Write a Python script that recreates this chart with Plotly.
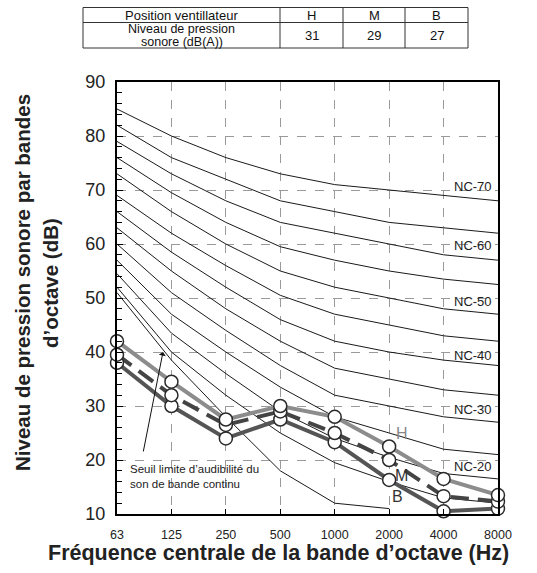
import plotly.graph_objects as go

# ---------------- data ----------------
freq_labels = ["63", "125", "250", "500", "1000", "2000", "4000", "8000"]
x_idx = list(range(len(freq_labels)))

nc_70 = [85, 80, 76, 73, 71, 70, 69, 68]
nc_65 = [82, 76, 72, 68, 66, 64, 63, 62]
nc_60 = [79, 73, 68, 64, 62, 60, 58, 57]
nc_55 = [76, 69.5, 64, 59.5, 57, 55, 53.5, 52.5]
nc_50 = [73, 66, 60, 55, 52, 50, 48, 47]
nc_45 = [69, 62, 56, 50.5, 47, 45, 43, 42]
nc_40 = [66, 58.5, 52, 46, 42, 40, 38.5, 37.5]
nc_35 = [63, 55, 48, 42, 37, 35, 33, 32]
nc_30 = [60, 51, 44, 37.5, 32, 30, 28, 27]
nc_25 = [57, 47, 40, 33.5, 28, 25, 22, 21]
nc_20 = [54.5, 43.5, 36, 29, 24, 20.5, 17.5, 16.5]
nc_15 = [52, 40, 32, 25, 19.5, 16, 13, 12]
threshold = [51, 38.5, 28, 18, 12, 11]

nc_curves = [nc_70, nc_65, nc_60, nc_55, nc_50, nc_45, nc_40, nc_35,
             nc_30, nc_25, nc_20, nc_15]

nc_label_text = ["NC-70", "NC-60", "NC-50", "NC-40", "NC-30", "NC-20"]
nc_label_y = [70.6, 59.8, 49.4, 39.3, 29.3, 18.8]

level_H = [42, 34.5, 27.5, 30, 28, 22.5, 16.5, 13.5]
level_M = [39.5, 32, 26.5, 29, 25, 20, 13.3, 12.3]
level_B = [38, 30, 24, 27.5, 23.3, 16.3, 10.5, 11]

table_header = ["Position ventillateur", "H", "M", "B"]
table_row_label = ["Niveau de pression", "sonore (dB(A))"]
table_row_values = ["31", "29", "27"]

# ---------------- figure ----------------
W, H = 537, 573
L, R, T, B = 117, 498, 82, 514
FONT = "Arial, Liberation Sans, Helvetica, sans-serif"

def px_x(px):
    return (px - L) / (R - L)

def px_y(py):
    return (B - py) / (B - T)

fig = go.Figure()

for curve in nc_curves:
    fig.add_trace(go.Scatter(x=x_idx, y=curve, mode="lines",
                             line=dict(color="#1a1a1a", width=1),
                             hoverinfo="skip", showlegend=False))
fig.add_trace(go.Scatter(x=x_idx[:len(threshold)], y=threshold, mode="lines",
                         line=dict(color="#1a1a1a", width=1),
                         hoverinfo="skip", showlegend=False))

series = [
    (level_B, "#555555", "solid"),
    (level_M, "#444444", "18px,9px"),
    (level_H, "#8c8c8c", "solid"),
]
for vals, col, dash in series:
    fig.add_trace(go.Scatter(x=x_idx, y=vals, mode="lines",
                             line=dict(color=col, width=4, dash=dash),
                             showlegend=False, cliponaxis=False))
for vals, col, dash in series:
    fig.add_trace(go.Scatter(x=x_idx, y=vals, mode="markers",
                             marker=dict(symbol="circle", size=13, color="white",
                                         line=dict(color="#2a2a2a", width=1.5)),
                             showlegend=False, cliponaxis=False))

# NC labels
for txt, yv in zip(nc_label_text, nc_label_y):
    fig.add_annotation(x=6.54, y=yv, text=txt, showarrow=False,
                       xref="x", yref="y", xanchor="center", yanchor="middle",
                       font=dict(family=FONT, size=13, color="#222"))

# series labels
fig.add_annotation(x=5.23, y=25, text="H", showarrow=False,
                   xanchor="center", yanchor="middle",
                   font=dict(family=FONT, size=16, color="#888"))
fig.add_annotation(x=5.23, y=17.2, text="M", showarrow=False,
                   xanchor="center", yanchor="middle",
                   font=dict(family=FONT, size=16, color="#333"))
fig.add_annotation(x=5.16, y=13.2, text="B", showarrow=False,
                   xanchor="center", yanchor="middle",
                   font=dict(family=FONT, size=16, color="#333"))

# threshold annotation
fig.add_annotation(x=0.2, y=17.0, text="Seuil limite d’audibilité du<br>son de bande continu",
                   showarrow=False, xanchor="left", yanchor="middle", align="left",
                   font=dict(family=FONT, size=11.5, color="#222"))
fig.add_annotation(x=0.845, y=40, ax=0.478, ay=21.3, axref="x", ayref="y",
                   xref="x", yref="y", text="", showarrow=True,
                   arrowhead=1, arrowsize=1.2, arrowwidth=1, arrowcolor="#111")

# axis titles
fig.add_annotation(xref="paper", yref="paper", x=px_x(278), y=px_y(553),
                   xanchor="center", yanchor="middle",
                   text="<b>Fréquence centrale de la bande d’octave (Hz)</b>",
                   showarrow=False, font=dict(family=FONT, size=21.5, color="#222"))
fig.add_annotation(xref="paper", yref="paper", x=px_x(22), y=px_y(283),
                   xanchor="center", yanchor="middle",
                   text="<b>Niveau de pression sonore par bandes</b>", textangle=-90,
                   showarrow=False, font=dict(family=FONT, size=20.5, color="#222"))
fig.add_annotation(xref="paper", yref="paper", x=px_x(50), y=px_y(283),
                   xanchor="center", yanchor="middle",
                   text="<b>d’octave (dB)</b>", textangle=-90,
                   showarrow=False, font=dict(family=FONT, size=20.5, color="#222"))

# table
tx = [83, 280, 343, 405, 468]
ty = [7.5, 22.5, 48]
for yv in ty:
    fig.add_shape(type="line", xref="paper", yref="paper",
                  x0=px_x(tx[0]), x1=px_x(tx[-1]), y0=px_y(yv), y1=px_y(yv),
                  line=dict(color="#333", width=1))
for xv in tx:
    fig.add_shape(type="line", xref="paper", yref="paper",
                  x0=px_x(xv), x1=px_x(xv), y0=px_y(ty[0]), y1=px_y(ty[-1]),
                  line=dict(color="#333", width=1))
TFS = 13
for i in range(4):
    cx = (tx[i] + tx[i + 1]) / 2
    fig.add_annotation(xref="paper", yref="paper", x=px_x(cx), y=px_y((ty[0] + ty[1]) / 2),
                       xanchor="center", yanchor="middle",
                       text=table_header[i], showarrow=False,
                       font=dict(family=FONT, size=TFS, color="#111"))
c0 = (tx[0] + tx[1]) / 2
fig.add_annotation(xref="paper", yref="paper", x=px_x(c0), y=px_y(29.0),
                   xanchor="center", yanchor="middle",
                   text=table_row_label[0], showarrow=False,
                   font=dict(family=FONT, size=12.5, color="#111"))
fig.add_annotation(xref="paper", yref="paper", x=px_x(c0), y=px_y(41.5),
                   xanchor="center", yanchor="middle",
                   text=table_row_label[1], showarrow=False,
                   font=dict(family=FONT, size=12.5, color="#111"))
for i, txt in enumerate(table_row_values):
    cx = (tx[i + 1] + tx[i + 2]) / 2
    fig.add_annotation(xref="paper", yref="paper", x=px_x(cx), y=px_y((ty[1] + ty[2]) / 2),
                       xanchor="center", yanchor="middle",
                       text=txt, showarrow=False,
                       font=dict(family=FONT, size=TFS, color="#111"))

fig.update_xaxes(range=[0, 7], tickvals=x_idx, ticktext=freq_labels,
                 showgrid=True, gridcolor="#9a9a9a", griddash="dash", gridwidth=1,
                 showline=True, linecolor="black", linewidth=2, mirror=True,
                 ticks="inside", ticklen=5, tickcolor="black", ticklabelstandoff=8,
                 tickfont=dict(family=FONT, size=12.5, color="#222"), zeroline=False)
fig.update_yaxes(range=[10, 90], tickvals=[10, 20, 30, 40, 50, 60, 70, 80, 90],
                 showgrid=True, gridcolor="#9a9a9a", griddash="dash", gridwidth=1,
                 showline=True, linecolor="black", linewidth=2, mirror=True,
                 ticks="inside", ticklen=6, tickcolor="black", ticklabelstandoff=6,
                 minor=dict(dtick=2, ticks="inside", ticklen=5, tickcolor="black", showgrid=False),
                 tickfont=dict(family=FONT, size=18, color="#222"), zeroline=False)

fig.update_layout(width=W, height=H, margin=dict(l=L, r=W - R, t=T, b=H - B),
                  plot_bgcolor="white", paper_bgcolor="white", showlegend=False)

fig.write_html("out.html")
